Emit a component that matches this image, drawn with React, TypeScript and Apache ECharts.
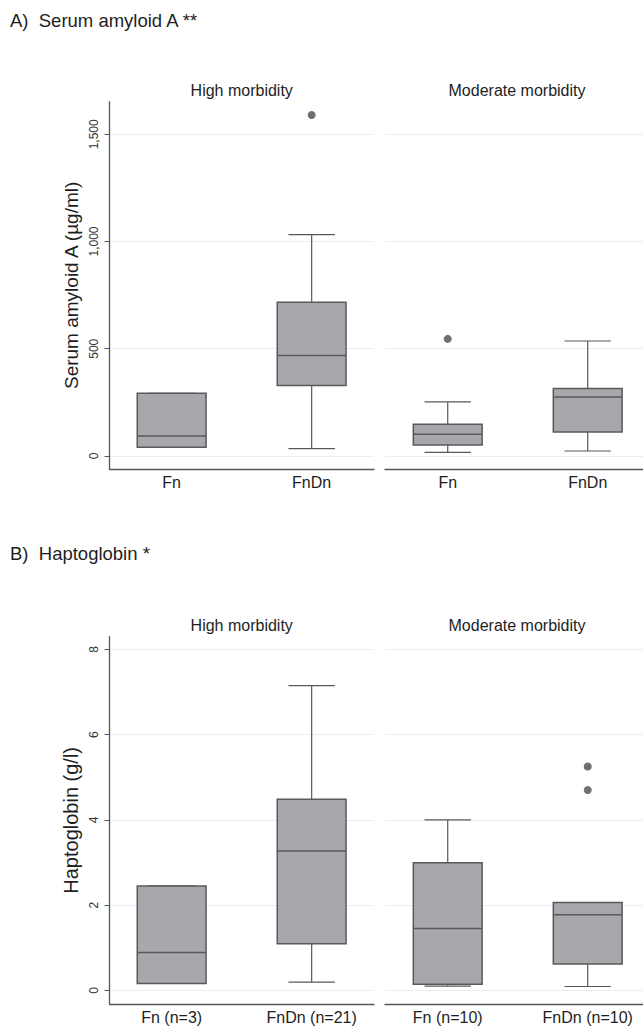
import { useEffect, useRef } from 'react';
import * as echarts from 'echarts';

// ---------- data ----------
const groupKeys = [0, 1];
const saaCategories = ['Fn', 'FnDn'];
const hapHighCategories = ['Fn (n=3)', 'FnDn (n=21)'];
const hapModerateCategories = ['Fn (n=10)', 'FnDn (n=10)'];
const panelTitles = ['High morbidity', 'Moderate morbidity'];
const sectionTitles = ['A)  Serum amyloid A **', 'B)  Haptoglobin *'];
const saaAxisName = 'Serum amyloid A (µg/ml)';
const hapAxisName = 'Haptoglobin (g/l)';

// each row: [min, Q1, median, Q3, max]
const saaHigh = [
  [40, 40, 93, 292, 292],
  [34, 328, 468, 717, 1032],
];
const saaModerate = [
  [17, 51, 101, 148, 252],
  [23, 112, 275, 314, 536],
];
const saaHighOutliers = [[1, 1590]];
const saaModerateOutliers = [[0, 546]];

const hapHigh = [
  [0.16, 0.16, 0.89, 2.45, 2.45],
  [0.19, 1.09, 3.27, 4.48, 7.15],
];
const hapModerate = [
  [0.1, 0.14, 1.45, 2.99, 4.0],
  [0.09, 0.62, 1.77, 2.06, 2.06],
];
const hapHighOutliers: number[][] = [];
const hapModerateOutliers = [
  [1, 5.25],
  [1, 4.7],
];

const saaTicks = [0, 500, 1000, 1500];
const hapTicks = [0, 2, 4, 6, 8];

// ---------- styles ----------
const FONT = '"Liberation Sans", Arial, Helvetica, sans-serif';
const AXIS_COLOR = '#555658';
const GRID_COLOR = '#e8eef3';
const BOX_FILL = '#a7a8ab';
const BOX_STROKE = '#58595c';
const TEXT_COLOR = '#1e1e1e';

const renderBox = (_params: any, api: any) => {
  const x = api.value(0);
  const lo = api.coord([x, api.value(1)]);
  const q1 = api.coord([x, api.value(2)]);
  const md = api.coord([x, api.value(3)]);
  const q3 = api.coord([x, api.value(4)]);
  const hi = api.coord([x, api.value(5)]);
  const cx = lo[0];
  const bw = 34.4;
  const cw = 23.2;
  const ls = { stroke: BOX_STROKE, lineWidth: 1.2 };
  return {
    type: 'group',
    children: [
      { type: 'line', shape: { x1: cx, y1: lo[1], x2: cx, y2: q1[1] }, style: ls },
      { type: 'line', shape: { x1: cx, y1: q3[1], x2: cx, y2: hi[1] }, style: ls },
      { type: 'line', shape: { x1: cx - cw, y1: lo[1], x2: cx + cw, y2: lo[1] }, style: ls },
      { type: 'line', shape: { x1: cx - cw, y1: hi[1], x2: cx + cw, y2: hi[1] }, style: ls },
      {
        type: 'rect',
        shape: { x: cx - bw, y: q3[1], width: 2 * bw, height: q1[1] - q3[1] },
        style: { fill: BOX_FILL, stroke: BOX_STROKE, lineWidth: 1.5 },
      },
      {
        type: 'line',
        shape: { x1: cx - bw, y1: md[1], x2: cx + bw, y2: md[1] },
        style: { stroke: BOX_STROKE, lineWidth: 1.5 },
      },
    ],
  };
};

export default function App() {
  const ref = useRef<HTMLDivElement>(null);

  useEffect(() => {
    if (!ref.current) return;
    const chart = echarts.init(ref.current, undefined, { renderer: 'svg' });

    const grids = [
      { left: 109.5, top: 101.7, width: 264.5, height: 367.3 },
      { left: 385, top: 101.7, width: 258, height: 367.3 },
      { left: 109.5, top: 636.7, width: 264.5, height: 367.3 },
      { left: 385, top: 636.7, width: 258, height: 367.3 },
    ];
    const xLabels = [saaCategories, saaCategories, hapHighCategories, hapModerateCategories];
    const xMin = [-0.444, -0.448, -0.444, -0.448];
    const xMax = [-0.444 + 264.5 / 140, -0.448 + 258 / 140, -0.444 + 264.5 / 140, -0.448 + 258 / 140];
    const yMin = [-61, -61, -0.321, -0.321];
    const yMax = [1652, 1652, 8.296, 8.296];
    const yTicks = [saaTicks, saaTicks, hapTicks, hapTicks];
    const yNames = [saaAxisName, '', hapAxisName, ''];
    const yNameSize = [19, 19, 20, 20];

    const xAxis = grids.map((_, i) => ({
      gridIndex: i,
      type: 'value',
      min: xMin[i],
      max: xMax[i],
      axisLine: { show: true, onZero: false, lineStyle: { color: AXIS_COLOR, width: 1.3 } },
      axisTick: { show: false },
      splitLine: { show: false },
      axisLabel: {
        customValues: groupKeys,
        formatter: (v: number) => xLabels[i][Math.round(v)] ?? '',
        fontSize: 16,
        color: TEXT_COLOR,
        fontFamily: FONT,
        margin: 5,
      },
    }));

    const yAxis = grids.map((_, i) => {
      const left = i % 2 === 0;
      return {
        gridIndex: i,
        type: 'value',
        min: yMin[i],
        max: yMax[i],
        name: yNames[i],
        nameLocation: 'middle',
        nameGap: 29,
        nameTextStyle: { fontSize: yNameSize[i], color: TEXT_COLOR, fontFamily: FONT },
        axisLine: { show: left, onZero: false, lineStyle: { color: AXIS_COLOR, width: 1.3 } },
        axisTick: {
          show: left,
          length: 5,
          customValues: yTicks[i],
          lineStyle: { color: AXIS_COLOR, width: 1 },
        },
        axisLabel: {
          show: left,
          customValues: yTicks[i],
          rotate: 90,
          fontSize: 12,
          color: '#333',
          fontFamily: FONT,
          margin: 10,
          formatter: (v: number) => v.toLocaleString('en-US'),
        },
        splitLine: { show: true, lineStyle: { color: GRID_COLOR, width: 1 } },
      };
    });

    const boxSets = [saaHigh, saaModerate, hapHigh, hapModerate];
    const outlierSets = [saaHighOutliers, saaModerateOutliers, hapHighOutliers, hapModerateOutliers];

    const series: any[] = [];
    boxSets.forEach((set, i) => {
      series.push({
        type: 'custom',
        xAxisIndex: i,
        yAxisIndex: i,
        renderItem: renderBox,
        encode: { x: 0, y: [1, 2, 3, 4, 5] },
        data: set.map((row, k) => [groupKeys[k], ...row]),
        silent: true,
      });
      series.push({
        type: 'scatter',
        xAxisIndex: i,
        yAxisIndex: i,
        symbol: 'circle',
        symbolSize: 8,
        itemStyle: { color: '#4b4c4e' },
        data: outlierSets[i],
        silent: true,
      });
    });

    const panelCenters = [241.7, 517];
    const graphic: any[] = [
      {
        type: 'text',
        x: 10,
        y: 20.2,
        style: {
          text: sectionTitles[0],
          fontSize: 18.5,
          fontFamily: FONT,
          fill: TEXT_COLOR,
          textVerticalAlign: 'middle',
        },
      },
      {
        type: 'text',
        x: 10,
        y: 553.8,
        style: {
          text: sectionTitles[1],
          fontSize: 18.5,
          fontFamily: FONT,
          fill: TEXT_COLOR,
          textVerticalAlign: 'middle',
        },
      },
    ];
    [90.7, 625.6].forEach((y) => {
      panelTitles.forEach((t, j) => {
        graphic.push({
          type: 'text',
          x: panelCenters[j],
          y,
          style: {
            text: t,
            fontSize: 16,
            fontFamily: FONT,
            fill: TEXT_COLOR,
            textAlign: 'center',
            textVerticalAlign: 'middle',
          },
        });
      });
    });

    chart.setOption({
      animation: false,
      backgroundColor: '#ffffff',
      textStyle: { fontFamily: FONT },
      grid: grids,
      xAxis,
      yAxis,
      series,
      graphic,
    });

    return () => chart.dispose();
  }, []);

  return (
    <div
      ref={ref}
      style={{ position: 'absolute', left: 0, top: 0, width: 643, height: 1027 }}
    />
  );
}
